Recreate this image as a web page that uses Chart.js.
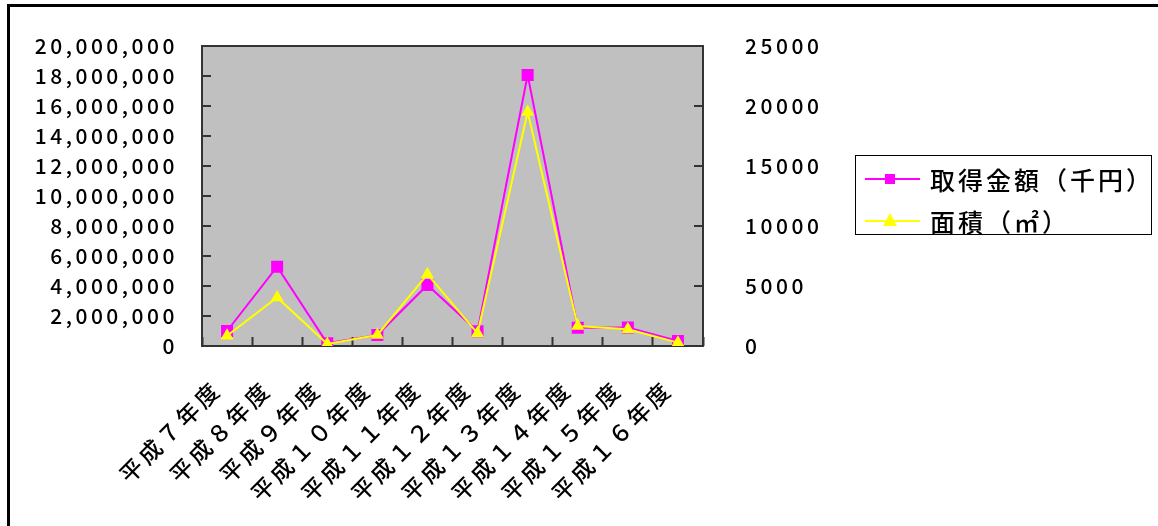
<!DOCTYPE html>
<html>
<head>
<meta charset="utf-8">
<script src="https://cdn.jsdelivr.net/npm/chart.js@4.4.1/dist/chart.umd.min.js"></script>
<style>
    body { margin: 0; background: #fff; width: 1158px; height: 526px; overflow: hidden; position: relative; }
    #frame { position: absolute; left: 7px; top: 4px; width: 1300px; height: 700px;
             border-left: 3px solid #000; border-top: 3px solid #000; }
    #chartCanvas { position: absolute; left: 0; top: 0; }
</style>
</head>
<body>
<div id="frame"></div>
<canvas id="chartCanvas" width="1158" height="526"></canvas>
<script>
//-----------------------------------------------------------------------------
// data
//-----------------------------------------------------------------------------
const years = ["平成７年度", "平成８年度", "平成９年度", "平成１０年度", "平成１１年度",
               "平成１２年度", "平成１３年度", "平成１４年度", "平成１５年度", "平成１６年度"];
const amountValues = [1000000, 5290000, 180000, 730000, 4070000,
                      980000, 18070000, 1220000, 1240000, 330000];
const areaValues   = [860, 4050, 170, 920, 5980,
                      1060, 19500, 1670, 1390, 280];
const seriesNames  = ["取得金額（千円）", "面積（㎡）"];

const amountAxis = [0, 20000000, 2000000];   // min, max, step
const areaAxis   = [0, 25000, 5000];

const FONT = "'Noto Sans CJK JP', 'Noto Sans', sans-serif";
const AXIS_COLOR = "#333";
const SPACING = "3.5px";

//-----------------------------------------------------------------------------
// canvas letter spacing, the old picture has wide glyphs
//-----------------------------------------------------------------------------
const spacingPlugin = {
    id: "spacing",
    beforeUpdate(chart){ chart.ctx.letterSpacing = SPACING; },
    beforeDraw(chart){ chart.ctx.letterSpacing = SPACING; }
};

// grey plot area with a dark frame and inner tick marks on both y axes
const plotAreaPlugin = {
    id: "plotArea",
    beforeDraw(chart){
        const {ctx, chartArea: a} = chart;
        ctx.save();
        ctx.fillStyle = "#c0c0c0";
        ctx.fillRect(a.left, a.top, a.right - a.left, a.bottom - a.top);
        ctx.restore();
    },
    beforeDatasetsDraw(chart){
        const {ctx, chartArea: a, scales} = chart;
        ctx.save();
        ctx.strokeStyle = AXIS_COLOR;
        ctx.lineWidth = 2;
        ctx.strokeRect(a.left, a.top, a.right - a.left, a.bottom - a.top);
        ctx.beginPath();
        scales.y.ticks.forEach(t => {
            const py = Math.round(scales.y.getPixelForValue(t.value));
            ctx.moveTo(a.left, py);
            ctx.lineTo(a.left + 9, py);
        });
        scales.y1.ticks.forEach(t => {
            const py = Math.round(scales.y1.getPixelForValue(t.value));
            ctx.moveTo(a.right - 9, py);
            ctx.lineTo(a.right, py);
        });
        ctx.stroke();
        ctx.restore();
    }
};

// boxed legend on the right, built from the datasets
const boxLegendPlugin = {
    id: "boxLegend",
    afterDraw(chart){
        const ctx = chart.ctx;
        const box = {x: 855, y: 155, w: 296, h: 79};
        ctx.save();
        ctx.strokeStyle = "#000";
        ctx.lineWidth = 1;
        ctx.strokeRect(box.x + 0.5, box.y + 0.5, box.w, box.h);
        chart.data.datasets.forEach((ds, i) => {
            const y = box.y + 24 + i * 42;
            ctx.strokeStyle = ds.borderColor;
            ctx.lineWidth = 2;
            ctx.beginPath();
            ctx.moveTo(box.x + 10, y);
            ctx.lineTo(box.x + 65, y);
            ctx.stroke();
            ctx.fillStyle = ds.backgroundColor;
            const cx = box.x + 35;
            if (ds.pointStyle === "rect"){
                ctx.fillRect(cx - 5, y - 5, 10, 10);
            } else {
                ctx.beginPath();
                ctx.moveTo(cx, y - 8);
                ctx.lineTo(cx + 7, y + 5);
                ctx.lineTo(cx - 7, y + 5);
                ctx.closePath();
                ctx.fill();
            }
            ctx.fillStyle = "#000";
            ctx.font = `500 25px ${FONT}`;
            ctx.letterSpacing = "3px";
            ctx.textBaseline = "middle";
            ctx.textAlign = "left";
            ctx.fillText(ds.label, box.x + 75, y + 1);
        });
        ctx.restore();
    }
};

const hiddenTicks = {
    drawOnChartArea: false,
    drawTicks: true,
    tickColor: "rgba(0,0,0,0)"
};

const ctx = document.getElementById("chartCanvas").getContext("2d");
const chart = new Chart(ctx, {
    type: "line",
    data: {
        labels: years,
        datasets: [
            {
                label: seriesNames[0],
                data: amountValues,
                yAxisID: "y",
                borderColor: "#ff00ff",
                backgroundColor: "#ff00ff",
                borderWidth: 2,
                pointStyle: "rect",
                pointRadius: 8.5,
                pointBorderWidth: 0,
                tension: 0,
                order: 2
            },
            {
                label: seriesNames[1],
                data: areaValues,
                yAxisID: "y1",
                borderColor: "#ffff00",
                backgroundColor: "#ffff00",
                borderWidth: 2,
                pointStyle: "triangle",
                pointRadius: 7.5,
                pointBorderWidth: 0,
                tension: 0,
                order: 1
            }
        ]
    },
    options: {
        responsive: false,
        animation: false,
        events: [],
        layout: {
            padding: {left: 10, right: 325, top: 46, bottom: 0}
        },
        plugins: {
            legend: {display: false},
            tooltip: {enabled: false}
        },
        scales: {
            x: {
                offset: true,
                grid: {
                    drawOnChartArea: false,
                    drawTicks: true,
                    offset: true,
                    tickLength: -9,
                    tickWidth: 2,
                    color: AXIS_COLOR
                },
                border: {display: false},
                ticks: {
                    autoSkip: false,
                    minRotation: 45,
                    maxRotation: 45,
                    padding: 38,
                    labelOffset: -10,
                    color: "#000",
                    font: {family: FONT, size: 23, weight: 500}
                },
                afterFit: scale => { scale.height = 180; }
            },
            y: {
                position: "left",
                min: amountAxis[0],
                max: amountAxis[1],
                grid: {...hiddenTicks, tickLength: 24},
                border: {display: false},
                ticks: {
                    stepSize: amountAxis[2],
                    padding: 0,
                    color: "#000",
                    font: {family: FONT, size: 21, weight: 500},
                    callback: value => value.toLocaleString("en-US")
                },
                afterFit: scale => { scale.width = 192; }
            },
            y1: {
                position: "right",
                min: areaAxis[0],
                max: areaAxis[1],
                grid: {...hiddenTicks, tickLength: 42},
                border: {display: false},
                ticks: {
                    stepSize: areaAxis[2],
                    padding: 0,
                    color: "#000",
                    font: {family: FONT, size: 21, weight: 500},
                    callback: value => String(value)
                },
                afterFit: scale => { scale.width = 130; }
            }
        }
    },
    plugins: [spacingPlugin, plotAreaPlugin, boxLegendPlugin]
});
</script>
</body>
</html>
